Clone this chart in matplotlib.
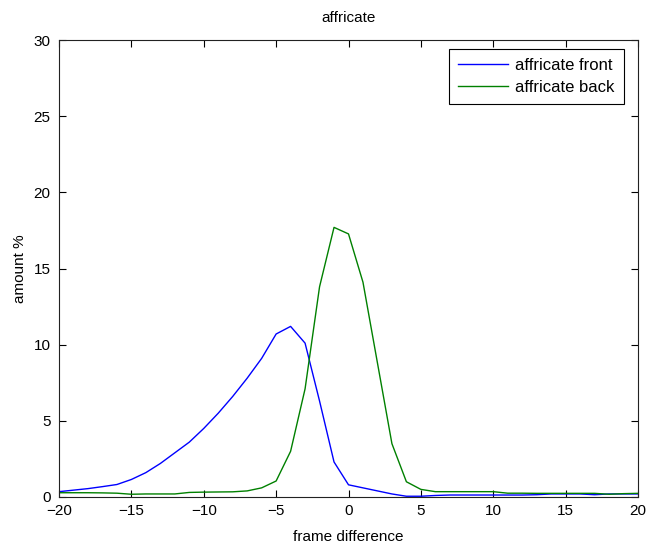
import matplotlib
matplotlib.use("Agg")
import matplotlib.pyplot as plt
import numpy as np

plt.rcParams['font.family'] = ['Liberation Sans', 'DejaVu Sans']

frames = list(range(-20, 21))
front = [0.35, 0.45, 0.55, 0.68, 0.82, 1.15, 1.6, 2.2, 2.9, 3.6, 4.5, 5.5, 6.6, 7.8, 9.1, 10.7, 11.2, 10.1, 6.3, 2.3,
         0.8, 0.6, 0.4, 0.2, 0.05, 0.05, 0.1, 0.13, 0.13, 0.13, 0.13, 0.13, 0.13, 0.15, 0.2, 0.2, 0.2, 0.15, 0.2, 0.2, 0.2]
back = [0.28, 0.28, 0.28, 0.27, 0.25, 0.18, 0.2, 0.2, 0.2, 0.3, 0.32, 0.33, 0.34, 0.4, 0.6, 1.05, 3.0, 7.1, 13.8, 17.7,
        17.27, 14.1, 8.8, 3.5, 1.0, 0.5, 0.35, 0.35, 0.35, 0.35, 0.35, 0.25, 0.25, 0.24, 0.24, 0.24, 0.24, 0.24, 0.18, 0.22, 0.24]

xticks = [-20, -15, -10, -5, 0, 5, 10, 15, 20]
yticks = [0, 5, 10, 15, 20, 25, 30]

fig = plt.figure(figsize=(6.52, 5.47), dpi=100)
ax = fig.add_axes([59/652, 50/547, (638-59)/652, (497-40)/547])
ax.plot(frames, front, color='#0000ff', lw=1.0, label='affricate front')
ax.plot(frames, back, color='#008000', lw=1.0, label='affricate back')
ax.set_xlim(-20, 20)
ax.set_ylim(0, 30)
ax.set_xticks(xticks)
ax.set_yticks(yticks)
ax.tick_params(direction='in', top=True, right=True, length=5, width=0.8, labelsize=11)
ax.tick_params(axis='y', pad=6)
ax.tick_params(axis='x', pad=5)
for s in ax.spines.values():
    s.set_linewidth(0.8)
    s.set_color('#222222')
ax.set_title('affricate', fontsize=11, pad=13)
ax.set_xlabel('frame difference', fontsize=11, labelpad=9)
ax.set_ylabel('amount %', fontsize=11, labelpad=5)
leg = ax.legend(loc='upper right', bbox_to_anchor=((624-59)/579, (497-49)/457), fontsize=12,
                fancybox=False, framealpha=1, edgecolor='black', borderaxespad=0,
                handlelength=3.0, handletextpad=0.45, borderpad=0.55, labelspacing=0.4)
leg.get_frame().set_linewidth(0.8)
fig.savefig('out.png', dpi=100)
